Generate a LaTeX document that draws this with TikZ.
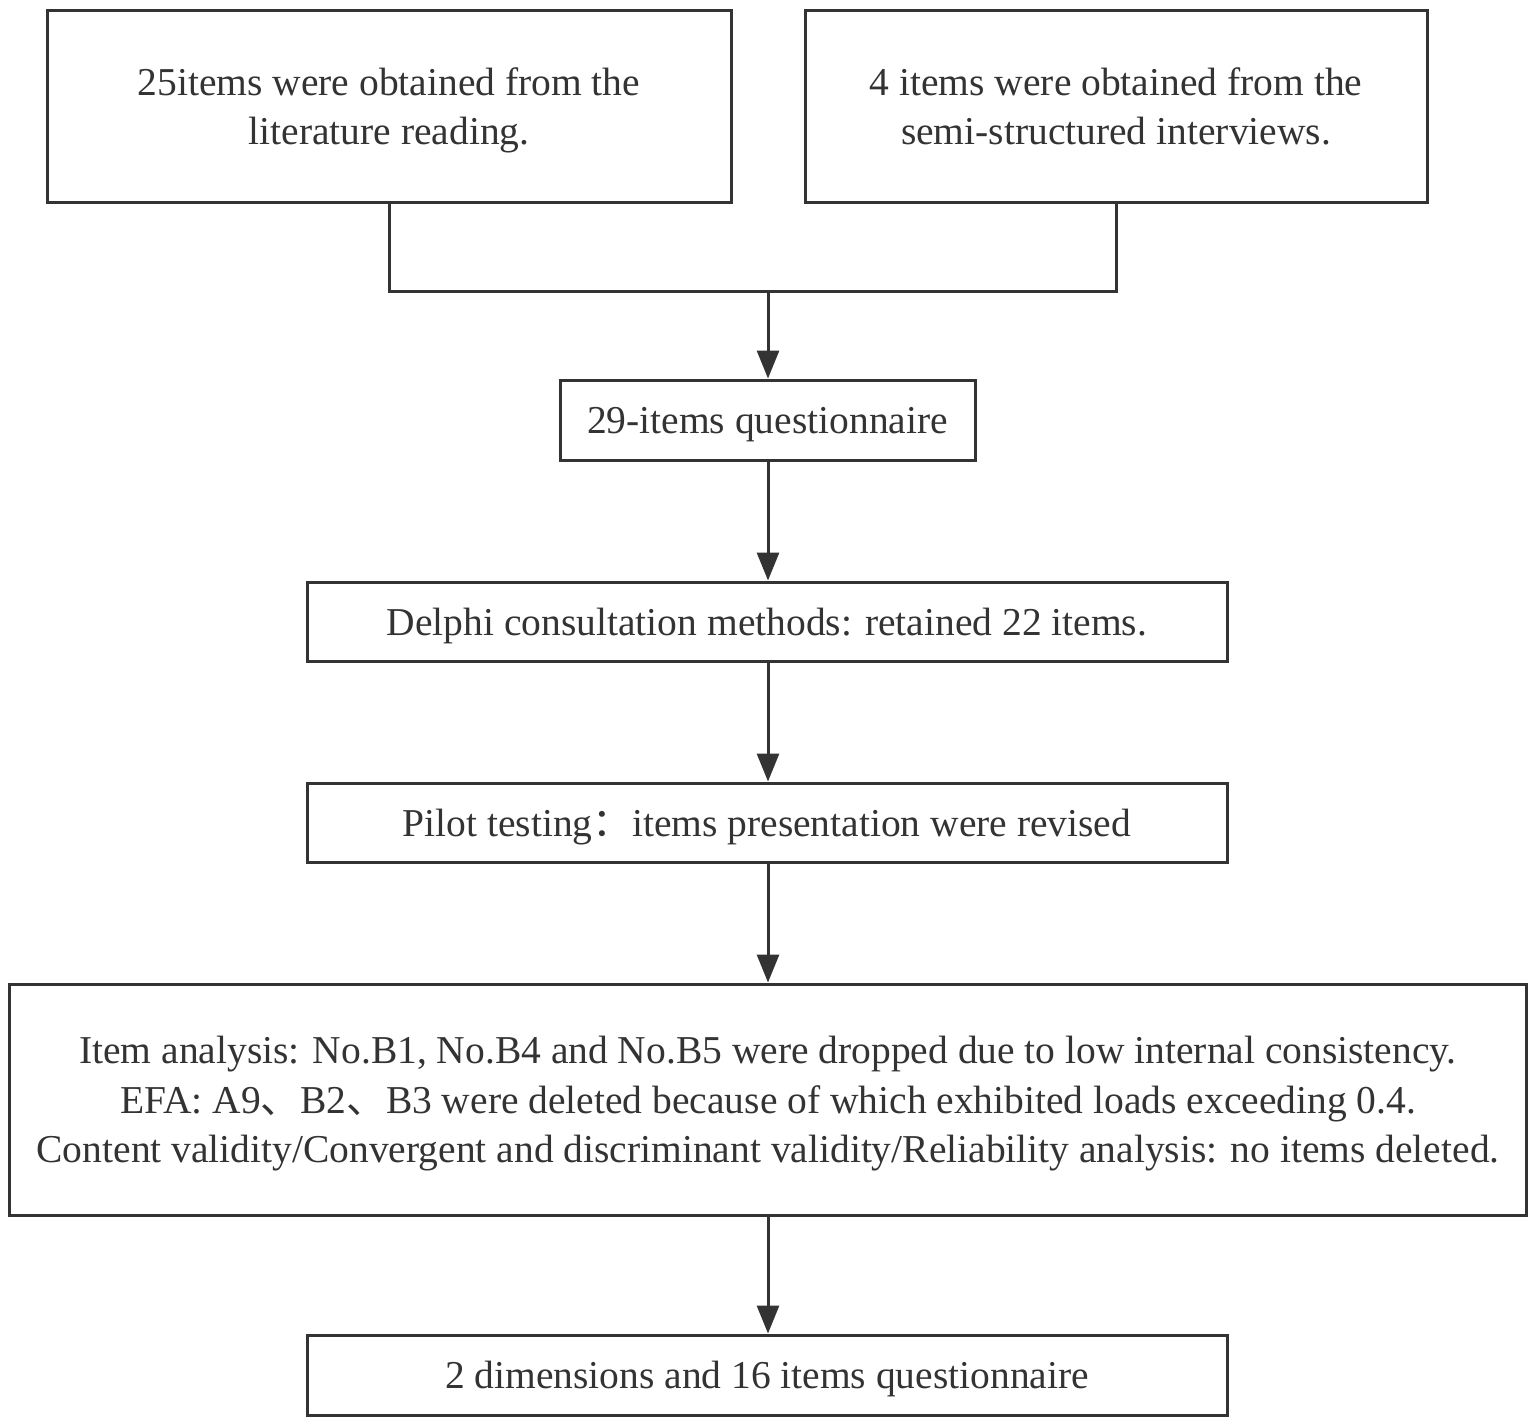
\documentclass[tikz,border=0pt]{standalone}
\usepackage{fontspec}
\setmainfont{Liberation Serif}
\newfontfamily\cjk{Noto Sans CJK SC}
\usetikzlibrary{arrows.meta}
\definecolor{ink}{HTML}{333333}

\begin{document}
\begin{tikzpicture}[x=0.5pt,y=-0.5pt,
    box/.style={shape=rectangle,draw=ink,line width=1.5pt,inner sep=0pt,align=center,text=ink,text depth=-1.7pt,font=\fontsize{19.75}{24.75}\selectfont},
    link/.style={draw=ink,line width=1.5pt},
    arr/.style={link,-{Triangle[length=14pt,width=11pt]}}]
    \useasboundingbox (0,0) rectangle (1536,1425);
    %sources
    \node[box,minimum width=342pt,minimum height=96pt] (lit) at (389,106) {25items were obtained from the\\literature reading.};
    \node[box,minimum width=311pt,minimum height=96pt] (intv) at (1116,106) {4 items were obtained from the\\semi-structured interviews.};
    \coordinate (join) at (768,291);
    %steps
    \node[box,minimum width=207.5pt,minimum height=40pt] (pool) at (767.5,420) {29-items questionnaire};
    \node[box,minimum width=460pt,minimum height=39.5pt] (delphi) at (767,621.5) {Delphi consultation methods: retained 22 items.};
    \node[box,minimum width=460pt,minimum height=39.5pt] (pilot) at (767,822.5) {Pilot testing{\cjk ：}items presentation were revised};
    \node[box,minimum width=758.5pt,minimum height=115.5pt] (anal) at (768,1099.5) {Item analysis: No.B1, No.B4 and No.B5 were dropped due to low internal consistency.\\EFA: A9{\cjk 、}B2{\cjk 、}B3 were deleted because of which exhibited loads exceeding 0.4.\\Content validity/Convergent and discriminant validity/Reliability analysis: no items deleted.};
    \node[box,minimum width=460pt,minimum height=40pt] (final) at (767,1375) {2 dimensions and 16 items questionnaire};

    \draw[link] (lit.south) |- (join);
    \draw[link] (intv.south) |- (join);
    \draw[arr] (join) -- (pool.north -| join);
    \draw[arr] (pool.south -| join) -- (delphi.north -| join);
    \draw[arr] (delphi.south -| join) -- (pilot.north -| join);
    \draw[arr] (pilot.south -| join) -- (anal.north -| join);
    \draw[arr] (anal.south -| join) -- (final.north -| join);
\end{tikzpicture}
\end{document}
